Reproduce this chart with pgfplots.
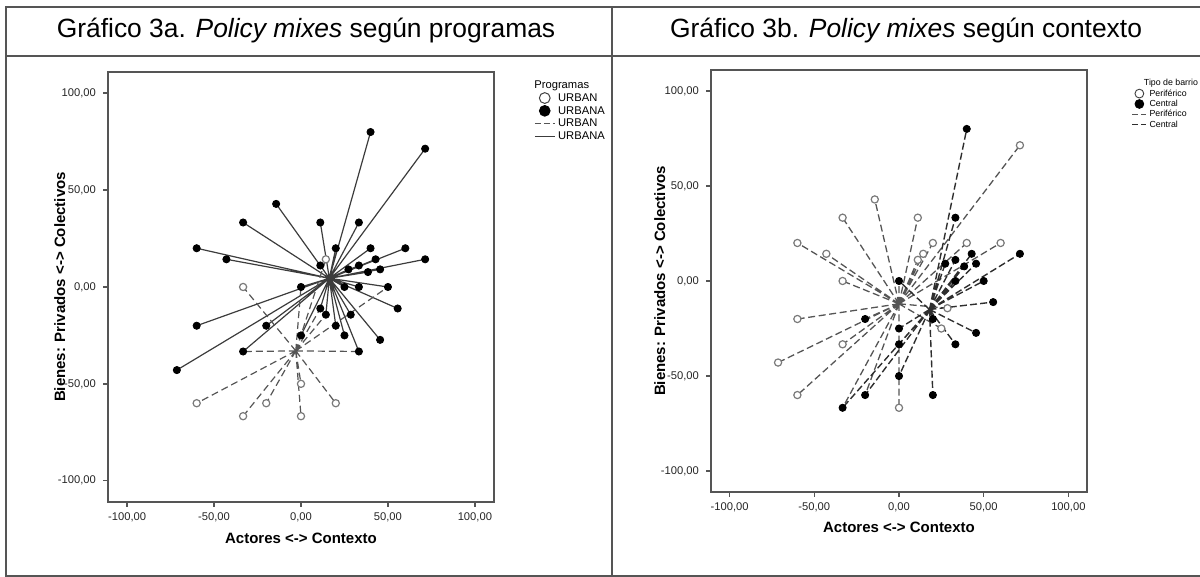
\documentclass[border=0pt]{standalone}
\usepackage{pgfplots}
\pgfplotsset{compat=1.18}
\usepackage{fontspec}
\setmainfont{Liberation Sans}
\definecolor{frm}{HTML}{555555}
\definecolor{lineA}{HTML}{3C3C3C}
\definecolor{lineB}{HTML}{555555}
\definecolor{lineC}{HTML}{2E2E2E}
\definecolor{openc}{HTML}{7A7A7A}
\pgfplotsset{
  spss/.style={
    scale only axis, anchor=south west,
    xmin=-111, xmax=111, ymin=-111, ymax=111,
    xtick={-100,-50,0,50,100}, ytick={-100,-50,0,50,100},
    xticklabels={{-100,00},{-50,00},{0,00},{50,00},{100,00}},
    yticklabels={{-100,00},{-50,00},{0,00},{50,00},{100,00}},
    tick align=outside, tick pos=left,
    major tick length=2.5pt,
    axis line style={frm, line width=0.8pt},
    every tick/.style={frm, line width=0.8pt},
    tick label style={font=\fontsize{5.6}{6.5}\selectfont, text=black!85},
    xticklabel style={yshift=0.5pt},
    label style={font=\bfseries\fontsize{7.5}{9}\selectfont},
    unbounded coords=jump,
    legend cell align=left,
    legend style={draw=none, fill=none, font=\fontsize{5.6}{6}\selectfont,
      row sep=0pt, inner sep=0pt, column sep=1pt,
      nodes={inner sep=0.4pt, text height=4.4pt, text depth=1.2pt}},
    legend image code/.code={\draw[mark repeat=2,mark phase=2,##1] plot coordinates {(0pt,0pt) (5pt,0pt) (10pt,0pt)};},
  },
  filledm/.style={only marks, mark=*, mark size=1.8pt, mark options={fill=black, draw=black, solid}},
  openm/.style={only marks, mark=*, mark size=1.8pt, mark options={fill=white, draw=openc, line width=0.6pt, solid}},
  dashA/.style={lineB, line width=0.6pt, dash pattern=on 3.5pt off 2pt},
}
\begin{document}
\begin{tikzpicture}
\path[use as bounding box, clip] (0,0) rectangle (600pt,288.5pt);
% panel frames
\draw[frm, line width=0.8pt] (3pt,0.5pt) rectangle (610pt,285pt);
\draw[frm, line width=0.8pt] (3pt,260.5pt) -- (610pt,260.5pt);
\draw[frm, line width=0.8pt] (306pt,0.5pt) -- (306pt,285pt);
\node[font=\fontsize{13.2}{15}\selectfont] at (153pt,273.3pt) {Gráfico 3a. \textit{Policy mixes} según programas};
\node[font=\fontsize{13.2}{15}\selectfont] at (453pt,273.3pt) {Gráfico 3b. \textit{Policy mixes} según contexto};

% ---------------- Left chart ----------------
\begin{axis}[spss, at={(54pt,37.5pt)}, width=193pt, height=215pt,
  xlabel={Actores <-> Contexto}, ylabel={Bienes: Privados <-> Colectivos},
  xlabel style={at={(axis description cs:0.5,-0.085)}, anchor=center},
  ylabel style={at={(axis description cs:-0.125,0.5)}, anchor=center},
  legend style={at={(1.103,0.985)}, anchor=north west}]
% URBANA: solid lines to group centroid
\addplot[lineA, line width=0.6pt, forget plot] coordinates {
(16.3,4.5)(40,80) (nan,nan) (16.3,4.5)(71.4,71.4) (nan,nan)
(16.3,4.5)(-14.3,42.9) (nan,nan) (16.3,4.5)(-33.3,33.3) (nan,nan)
(16.3,4.5)(11.1,33.3) (nan,nan) (16.3,4.5)(33.3,33.3) (nan,nan)
(16.3,4.5)(-60,20) (nan,nan) (16.3,4.5)(-42.9,14.3) (nan,nan)
(16.3,4.5)(20,20) (nan,nan) (16.3,4.5)(40,20) (nan,nan)
(16.3,4.5)(60,20) (nan,nan) (16.3,4.5)(71.4,14.3) (nan,nan)
(16.3,4.5)(42.9,14.3) (nan,nan) (16.3,4.5)(33.3,11.1) (nan,nan)
(16.3,4.5)(27.3,9.1) (nan,nan) (16.3,4.5)(38.5,7.7) (nan,nan)
(16.3,4.5)(45.5,9.1) (nan,nan) (16.3,4.5)(11.1,11.1) (nan,nan)
(16.3,4.5)(0,0) (nan,nan) (16.3,4.5)(25,0) (nan,nan)
(16.3,4.5)(33.3,0) (nan,nan) (16.3,4.5)(50,0) (nan,nan)
(16.3,4.5)(55.6,-11.1) (nan,nan) (16.3,4.5)(11.1,-11.1) (nan,nan)
(16.3,4.5)(14.3,-14.3) (nan,nan) (16.3,4.5)(28.6,-14.3) (nan,nan)
(16.3,4.5)(-60,-20) (nan,nan) (16.3,4.5)(-20,-20) (nan,nan)
(16.3,4.5)(20,-20) (nan,nan) (16.3,4.5)(25,-25) (nan,nan)
(16.3,4.5)(45.5,-27.3) (nan,nan) (16.3,4.5)(0,-25) (nan,nan)
(16.3,4.5)(-71.4,-42.9) (nan,nan) (16.3,4.5)(-33.3,-33.3) (nan,nan)
(16.3,4.5)(33.3,-33.3)
};
% URBAN: dashed lines to group centroid
\addplot[dashA, forget plot] coordinates {
(-3,-33)(-33.3,0) (nan,nan) (-3,-33)(-60,-60) (nan,nan)
(-3,-33)(-33.3,-66.7) (nan,nan) (-3,-33)(-20,-60) (nan,nan)
(-3,-33)(0,-50) (nan,nan) (-3,-33)(0,-66.7) (nan,nan)
(-3,-33)(20,-60) (nan,nan) (-3,-33)(-33.3,-33.3) (nan,nan)
(-3,-33)(33.3,-33.3) (nan,nan) (-3,-33)(0,-25) (nan,nan)
(-3,-33)(11.1,-11.1) (nan,nan) (-3,-33)(14.3,-14.3) (nan,nan)
(-3,-33)(50,0) (nan,nan) (-3,-33)(0,0) (nan,nan)
(-3,-33)(14.3,14.3)
};
\addplot[filledm, forget plot] coordinates {
(40,80) (71.4,71.4) (-14.3,42.9) (-33.3,33.3) (11.1,33.3) (33.3,33.3)
(-60,20) (-42.9,14.3) (20,20) (40,20) (60,20) (71.4,14.3) (42.9,14.3)
(33.3,11.1) (27.3,9.1) (38.5,7.7) (45.5,9.1) (11.1,11.1) (0,0) (25,0)
(33.3,0) (50,0) (55.6,-11.1) (11.1,-11.1) (14.3,-14.3) (28.6,-14.3)
(-60,-20) (-20,-20) (20,-20) (25,-25) (45.5,-27.3) (0,-25) (-71.4,-42.9)
(-33.3,-33.3) (33.3,-33.3)
};
\addplot[openm, forget plot] coordinates {
(-33.3,0) (-60,-60) (-33.3,-66.7) (-20,-60) (0,-50) (0,-66.7) (20,-60) (14.3,14.3)
};
\addlegendimage{empty legend}
\addlegendentry{\makebox[0pt][l]{\hspace*{-12pt}Programas}}
\addlegendimage{only marks, mark=*, mark size=2.7pt, mark options={fill=white, draw=black!75, line width=0.5pt}}
\addlegendentry{URBAN}
\addlegendimage{only marks, mark=*, mark size=2.7pt, mark options={fill=black}}
\addlegendentry{URBANA}
\addlegendimage{lineB, line width=0.6pt, dash pattern=on 3pt off 1.5pt}
\addlegendentry{URBAN}
\addlegendimage{lineA, line width=0.6pt}
\addlegendentry{URBANA}
\end{axis}

% ---------------- Right chart ----------------
\begin{axis}[spss, at={(355.5pt,42.5pt)}, width=188pt, height=211pt,
  xlabel={Actores <-> Contexto}, ylabel={Bienes: Privados <-> Colectivos},
  xlabel style={at={(axis description cs:0.5,-0.083)}, anchor=center},
  ylabel style={at={(axis description cs:-0.136,0.5)}, anchor=center},
  legend style={at={(1.118,0.982)}, anchor=north west,
    font=\fontsize{4.4}{5}\selectfont, nodes={inner sep=0.3pt, text height=3.6pt, text depth=1pt}},
  legend image code/.code={\draw[mark repeat=2,mark phase=2,#1] plot coordinates {(0pt,0pt) (3.5pt,0pt) (7pt,0pt)};}]
% Periferico: dashed lines to group centroid
\addplot[lineB, line width=0.65pt, dash pattern=on 3.5pt off 1.8pt, forget plot] coordinates {
(0,-12)(-14.3,42.9) (nan,nan) (0,-12)(-33.3,33.3) (nan,nan)
(0,-12)(11.1,33.3) (nan,nan) (0,-12)(-60,20) (nan,nan)
(0,-12)(-42.9,14.3) (nan,nan) (0,-12)(-33.3,0) (nan,nan)
(0,-12)(20,20) (nan,nan) (0,-12)(11.1,11.1) (nan,nan)
(0,-12)(14.3,14.3) (nan,nan) (0,-12)(-60,-20) (nan,nan)
(0,-12)(-71.4,-42.9) (nan,nan) (0,-12)(-33.3,-33.3) (nan,nan)
(0,-12)(-60,-60) (nan,nan) (0,-12)(0,-66.7) (nan,nan)
(0,-12)(25,-25) (nan,nan) (0,-12)(28.6,-14.3) (nan,nan)
(0,-12)(71.4,71.4) (nan,nan) (0,-12)(40,20) (nan,nan)
(0,-12)(60,20) (nan,nan) (0,-12)(-33.3,-66.7) (nan,nan)
(0,-12)(-20,-60) (nan,nan) (0,-12)(0,-25) (nan,nan)
(0,-12)(0,-50) (nan,nan) (0,-12)(0,0) (nan,nan)
(0,-12)(-20,-20)
};
% Central: dashed lines to group centroid
\addplot[lineC, line width=0.7pt, dash pattern=on 3.5pt off 1.6pt, forget plot] coordinates {
(18,-15)(33.3,33.3) (nan,nan) (18,-15)(27.3,9.1) (nan,nan)
(18,-15)(0,0) (nan,nan) (18,-15)(33.3,0) (nan,nan)
(18,-15)(-33.3,-66.7) (nan,nan) (18,-15)(-20,-60) (nan,nan)
(18,-15)(0,-25) (nan,nan) (18,-15)(0,-33.3) (nan,nan)
(18,-15)(0,-50) (nan,nan) (18,-15)(20,-60) (nan,nan)
(18,-15)(33.3,-33.3) (nan,nan) (18,-15)(20,-20) (nan,nan)
(18,-15)(40,80) (nan,nan) (18,-15)(71.4,14.3) (nan,nan)
(18,-15)(42.9,14.3) (nan,nan) (18,-15)(50,0) (nan,nan)
(18,-15)(55.6,-11.1) (nan,nan) (18,-15)(45.5,-27.3) (nan,nan)
(18,-15)(33.3,11.1) (nan,nan) (18,-15)(38.5,7.7) (nan,nan)
(18,-15)(45.5,9.1)
};
\addplot[openm, forget plot] coordinates {
(-14.3,42.9) (-33.3,33.3) (11.1,33.3) (-60,20) (-42.9,14.3) (-33.3,0)
(20,20) (11.1,11.1) (14.3,14.3) (-60,-20) (-71.4,-42.9) (-33.3,-33.3)
(-60,-60) (0,-66.7) (25,-25) (28.6,-14.3) (71.4,71.4) (40,20) (60,20)
};
\addplot[filledm, forget plot] coordinates {
(33.3,33.3) (27.3,9.1) (0,0) (33.3,0) (-20,-20) (-33.3,-66.7) (-20,-60)
(0,-25) (0,-33.3) (0,-50) (20,-60) (33.3,-33.3) (20,-20) (40,80)
(71.4,14.3) (42.9,14.3) (50,0) (55.6,-11.1) (45.5,-27.3) (33.3,11.1)
(38.5,7.7) (45.5,9.1)
};
\addlegendimage{empty legend}
\addlegendentry{\makebox[0pt][l]{\hspace*{-3pt}Tipo de barrio}}
\addlegendimage{only marks, mark=*, mark size=2.2pt, mark options={fill=white, draw=black!75, line width=0.45pt}}
\addlegendentry{Periférico}
\addlegendimage{only marks, mark=*, mark size=2.2pt, mark options={fill=black}}
\addlegendentry{Central}
\addlegendimage{lineB, line width=0.6pt, dash pattern=on 3pt off 1.5pt}
\addlegendentry{Periférico}
\addlegendimage{lineC, line width=0.6pt, dash pattern=on 3pt off 1.5pt}
\addlegendentry{Central}
\end{axis}
\end{tikzpicture}
\end{document}
